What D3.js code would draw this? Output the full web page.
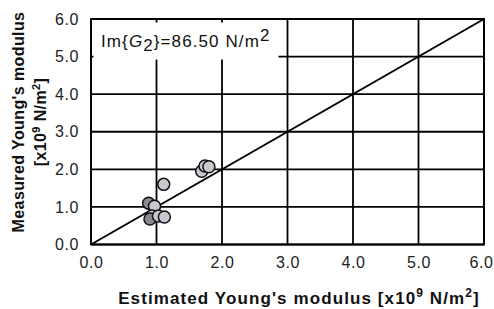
<!DOCTYPE html>
<html><head><meta charset="utf-8">
<script src="https://cdn.jsdelivr.net/npm/d3@7"></script>
<style>body{margin:0;background:#fff}svg{display:block}</style>
</head><body>
<svg id="c" width="494" height="309"></svg>
<script>
const estimated = [0.88, 0.97, 0.93, 0.90, 1.03, 1.12, 1.11, 1.69, 1.74, 1.80];
const measured  = [1.10, 1.02, 0.76, 0.68, 0.76, 0.73, 1.60, 1.95, 2.09, 2.07];
const xTicks = [0, 1, 2, 3, 4, 5, 6];
const yTicks = [0, 1, 2, 3, 4, 5, 6];
const identityLine = [0, 6];

const svg = d3.select("#c");
const x = d3.scaleLinear().domain([0, 6]).range([91, 484]);
const y = d3.scaleLinear().domain([0, 6]).range([244.5, 19]);
const font = "Arial, 'Liberation Sans', sans-serif";

// grid
const g = svg.append("g");
g.selectAll(".vx").data(xTicks).join("line")
  .attr("x1", d => x(d)).attr("x2", d => x(d)).attr("y1", y(0)).attr("y2", y(6))
  .attr("stroke", "#000").attr("stroke-width", 1.8);
g.selectAll(".hy").data(yTicks).join("line")
  .attr("y1", d => y(d)).attr("y2", d => y(d)).attr("x1", x(0)).attr("x2", x(6))
  .attr("stroke", "#000").attr("stroke-width", 1.8);

// annotation box (white) covering grid
svg.append("rect").attr("x", 93.5).attr("y", 22.5).attr("width", 185).attr("height", 37).attr("fill", "#fff");

// axes labels via d3 axes
const xAxis = svg.append("g").attr("transform", `translate(0,${y(0)})`)
  .call(d3.axisBottom(x).tickValues(xTicks).tickFormat(d3.format(".1f")).tickSize(0).tickPadding(12));
xAxis.select(".domain").remove();
xAxis.selectAll("text").attr("font-family", font).attr("font-size", 16).attr("letter-spacing", 0.6).attr("fill", "#222")
  .attr("dx", d => d === 6 ? -3 : 0);

const yAxis = svg.append("g").attr("transform", `translate(${x(0)},0)`)
  .call(d3.axisLeft(y).tickValues(yTicks).tickFormat(d3.format(".1f")).tickSize(0).tickPadding(12));
yAxis.select(".domain").remove();
yAxis.selectAll("text").attr("font-family", font).attr("font-size", 16).attr("letter-spacing", 0.6).attr("fill", "#222");

// diagonal
svg.append("line")
  .attr("x1", x(identityLine[0])).attr("y1", y(identityLine[0]))
  .attr("x2", x(identityLine[1])).attr("y2", y(identityLine[1]))
  .attr("stroke", "#000").attr("stroke-width", 2);

// frame
svg.append("rect").attr("x", x(0)).attr("y", y(6)).attr("width", x(6) - x(0)).attr("height", y(0) - y(6))
  .attr("fill", "none").attr("stroke", "#000").attr("stroke-width", 1.8);

// points
svg.append("g").selectAll("circle").data(estimated.map((e, i) => [e, measured[i]])).join("circle")
  .attr("cx", d => x(d[0])).attr("cy", d => y(d[1])).attr("r", 6)
  .attr("fill", (d, i) => i === 0 || i === 3 ? "#8a8a90" : "#c8c8d0")
  .attr("stroke", "#111").attr("stroke-width", 1.5);

// annotation text
const t = svg.append("text").attr("x", 101).attr("y", 47).attr("font-family", font).attr("font-size", 17)
  .attr("letter-spacing", 1.1).attr("fill", "#111");
t.append("tspan").text("Im{");
t.append("tspan").attr("font-style", "italic").text("G");
t.append("tspan").attr("dy", 4).text("2");
t.append("tspan").attr("dy", -4).text("}=86.50 N/m");
t.append("tspan").attr("dy", -6).text("2");

// x title
const xt = svg.append("text").attr("x", 299).attr("y", 304).attr("text-anchor", "middle")
  .attr("font-family", font).attr("font-size", 17).attr("font-weight", "bold").attr("letter-spacing", 1.1).attr("fill", "#111");
xt.append("tspan").text("Estimated Young's modulus [x10");
xt.append("tspan").attr("dy", -7).attr("font-size", 12).text("9");
xt.append("tspan").attr("dy", 7).text(" N/m");
xt.append("tspan").attr("dy", -7).attr("font-size", 12).text("2");
xt.append("tspan").attr("dy", 7).text("]");

// y title
const yt = svg.append("g").attr("transform", "translate(24,122) rotate(-90)");
yt.append("text").attr("text-anchor", "middle").attr("font-family", font).attr("font-size", 16)
  .attr("font-weight", "bold").attr("letter-spacing", 0.4).attr("fill", "#111").text("Measured Young's modulus");
const yt2 = yt.append("text").attr("y", 22).attr("text-anchor", "middle").attr("font-family", font).attr("font-size", 16)
  .attr("font-weight", "bold").attr("letter-spacing", 0.4).attr("fill", "#111");
yt2.append("tspan").text("[x10");
yt2.append("tspan").attr("dy", -6).attr("font-size", 11).text("9");
yt2.append("tspan").attr("dy", 6).text(" N/m");
yt2.append("tspan").attr("dy", -6).attr("font-size", 11).text("2");
yt2.append("tspan").attr("dy", 6).text("]");
</script>
</body></html>
